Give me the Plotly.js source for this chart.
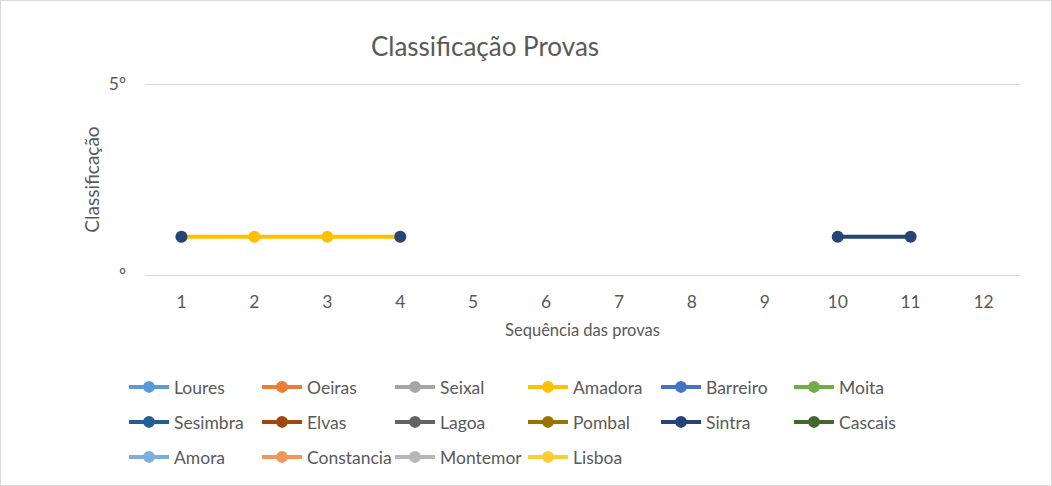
<!DOCTYPE html>
<html>
<head>
<meta charset="utf-8">
<script src="https://cdn.plot.ly/plotly-3.0.1.min.js"></script>
<style>
  html, body { margin: 0; padding: 0; background: #fff; }
  #chart { width: 1050px; height: 484px; border: 1px solid #d9d9d9; }
</style>
</head>
<body>
<div id="chart"></div>
<script>
// Data
const provas = [1, 2, 3, 4, 5, 6, 7, 8, 9, 10, 11, 12];
const provaLabels = ["1", "2", "3", "4", "5", "6", "7", "8", "9", "10", "11", "12"];
const yTickVals = [0, 5];
const yTickText = ["º", "5º"];

const seriesNames = ["Loures", "Oeiras", "Seixal", "Amadora", "Barreiro", "Moita",
                     "Sesimbra", "Elvas", "Lagoa", "Pombal", "Sintra", "Cascais",
                     "Amora", "Constancia", "Montemor", "Lisboa"];
const seriesColors = ["#5B9BD5", "#ED7D31", "#A5A5A5", "#FFC000", "#4472C4", "#70AD47",
                      "#255E91", "#9E480E", "#636363", "#997300", "#264478", "#43682B",
                      "#7CAFDD", "#F1975A", "#B7B7B7", "#FFCD33"];

const N = null;
const loures     = [N, N, N, N, N, N, N, N, N, N, N, N];
const oeiras     = [N, N, N, N, N, N, N, N, N, N, N, N];
const seixal     = [N, N, N, N, N, N, N, N, N, N, N, N];
const amadora    = [1, 1, 1, 1, N, N, N, N, N, N, N, N];
const barreiro   = [N, N, N, N, N, N, N, N, N, N, N, N];
const moita      = [N, N, N, N, N, N, N, N, N, N, N, N];
const sesimbra   = [N, N, N, N, N, N, N, N, N, N, N, N];
const elvas      = [N, N, N, N, N, N, N, N, N, N, N, N];
const lagoa      = [N, N, N, N, N, N, N, N, N, N, N, N];
const pombal     = [N, N, N, N, N, N, N, N, N, N, N, N];
const sintra     = [1, N, N, 1, N, N, N, N, N, 1, 1, N];
const cascais    = [N, N, N, N, N, N, N, N, N, N, N, N];
const amora      = [N, N, N, N, N, N, N, N, N, N, N, N];
const constancia = [N, N, N, N, N, N, N, N, N, N, N, N];
const montemor   = [N, N, N, N, N, N, N, N, N, N, N, N];
const lisboa     = [N, N, N, N, N, N, N, N, N, N, N, N];

const seriesValues = [loures, oeiras, seixal, amadora, barreiro, moita,
                      sesimbra, elvas, lagoa, pombal, sintra, cascais,
                      amora, constancia, montemor, lisboa];

const FONT = "Lato, 'Open Sans', 'Liberation Sans', sans-serif";
const TXT = "#595959";
const legendIds = ["legend", "legend2", "legend3"];

const traces = seriesNames.map((name, i) => ({
  type: "scatter",
  mode: "lines+markers",
  name: name,
  x: provas,
  y: seriesValues[i],
  connectgaps: false,
  line: { color: seriesColors[i], width: 4 },
  marker: { color: seriesColors[i], size: 12 },
  legend: legendIds[Math.floor(i / 6)],
  hoverinfo: "x+y+name"
}));

// plot area geometry (div coords): x 144..1019, y(0)=274, y(5)=83 ; 2px padding each side
const W = 1050, H = 484;
const mT = 81, mB = 208;
const plotH = H - mT - mB;            // 195
const unit = (plotH - 4) / 5;         // px per rank
const PAD = 2 / unit;

function legendDef(divY) {
  return {
    orientation: "h",
    xref: "container", x: 123 / W, xanchor: "left",
    yref: "container", y: 1 - divY / H, yanchor: "middle",
    font: { family: FONT, size: 17.5, color: TXT },
    entrywidth: 78, entrywidthmode: "pixels",
    itemwidth: 40,
    bgcolor: "rgba(0,0,0,0)",
    traceorder: "normal"
  };
}

const layout = {
  width: W, height: H,
  margin: { l: 144, r: 31, t: mT, b: mB, pad: 0, autoexpand: false },
  paper_bgcolor: "#ffffff",
  plot_bgcolor: "#ffffff",
  font: { family: FONT, size: 17, color: TXT },
  title: {
    text: "Classificação Provas",
    font: { family: FONT, size: 26, color: TXT },
    xref: "container", x: 484 / W, xanchor: "center",
    yref: "container", y: 1 - 46 / H, yanchor: "middle"
  },
  xaxis: {
    range: [0.5, 12.5],
    tickmode: "array",
    tickvals: provas,
    ticktext: provaLabels,
    showgrid: false, zeroline: false, showline: false,
    ticks: "", ticklabelstandoff: 12,
    tickfont: { family: FONT, size: 17.5, color: TXT },
    title: { text: "Sequência das provas", font: { family: FONT, size: 16.5, color: TXT }, standoff: 13 },
    fixedrange: true
  },
  yaxis: {
    range: [-PAD, 5 + PAD],
    tickmode: "array",
    tickvals: yTickVals,
    ticktext: yTickText,
    showgrid: true, gridcolor: "#d9d9d9", gridwidth: 1,
    zeroline: false,
    showline: false,
    ticks: "", ticklabelstandoff: 18,
    tickfont: { family: FONT, size: 17.5, color: TXT },
    title: { text: "Classificação", font: { family: FONT, size: 19, color: TXT }, standoff: 4 },
    fixedrange: true
  },
  legend: legendDef(386),
  legend2: legendDef(421),
  legend3: legendDef(456),
  showlegend: true
};

Plotly.newPlot("chart", traces, layout, { displayModeBar: false, responsive: false });
</script>
</body>
</html>
